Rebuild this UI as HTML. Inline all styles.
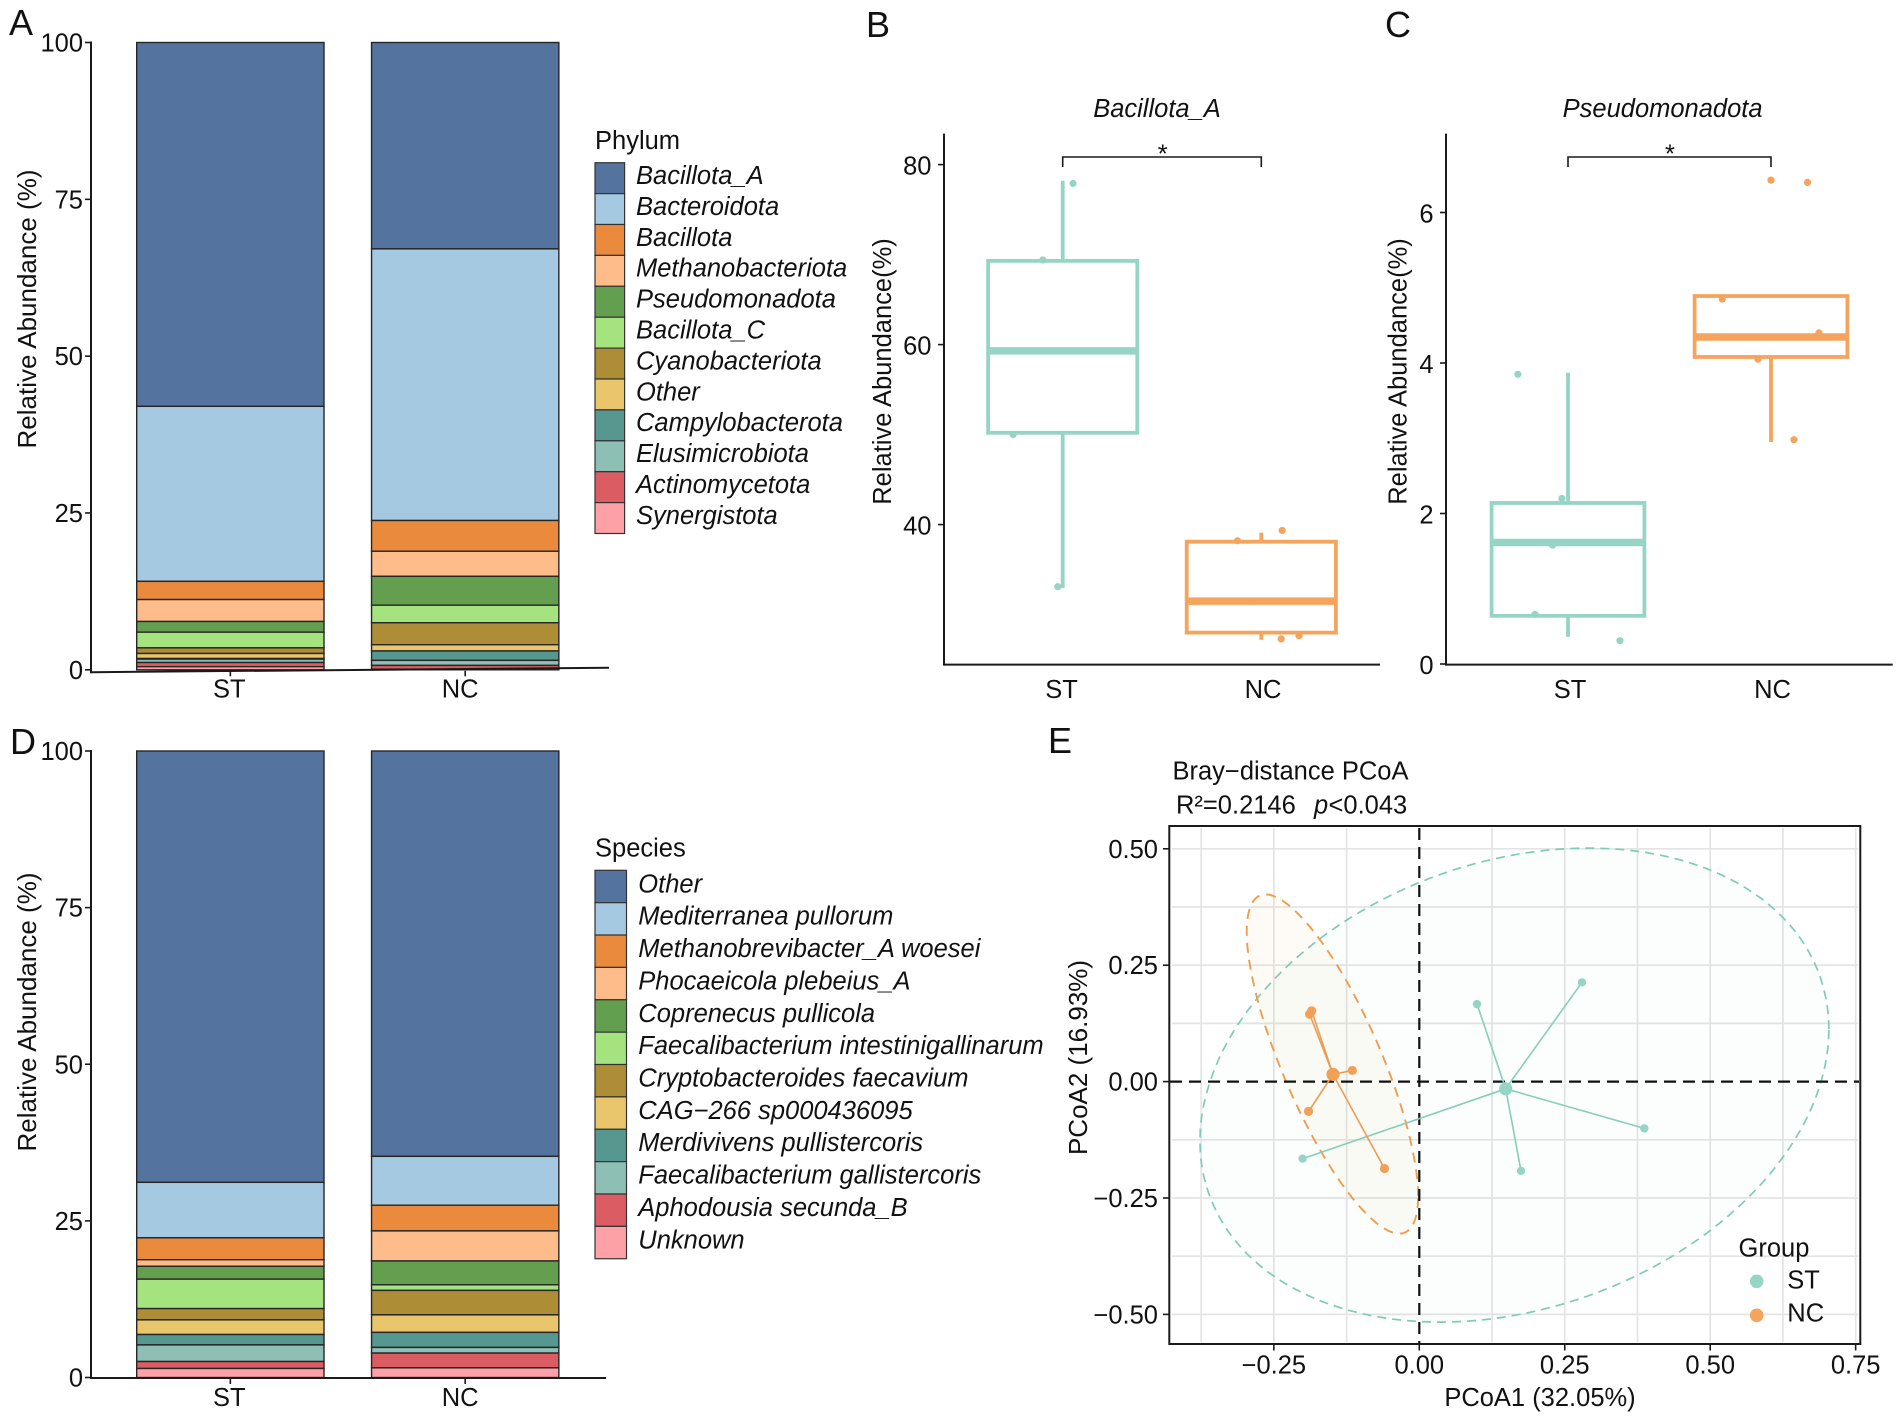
<!DOCTYPE html>
<html lang="en">
<head>
<meta charset="utf-8">
<title>Gut microbiota composition, abundance and PCoA figure</title>
<style>
  html, body { margin: 0; padding: 0; background: #ffffff; }
  svg { display: block; }
  text { font-family: "Liberation Sans", sans-serif; fill: #111111; font-size: 25.5px; }
  .letter { font-size: 36px; }
</style>
</head>
<body>
<svg id="figure" xmlns="http://www.w3.org/2000/svg" width="1902" height="1420" viewBox="0 0 1902 1420">
  <rect x="0" y="0" width="1902" height="1420" fill="#ffffff"/>
  <text class="letter" x="9" y="35">A</text>
  <text class="letter" x="866" y="37">B</text>
  <text class="letter" x="1385" y="37">C</text>
  <text class="letter" x="10" y="754">D</text>
  <text class="letter" x="1048" y="753">E</text>
  <g id="panel-a"></g>
  <g id="panel-b"></g>
  <g id="panel-c"></g>
  <g id="panel-d"></g>
  <g id="panel-e"></g>
</svg>
<script>
// ---------- Shared categories ----------
const groupLabels = ['ST', 'NC'];
const stackColors = ['#54749f', '#a6c9e2', '#ea8a3c', '#fdbc8a', '#649f4f', '#a4e37e', '#ad8e37', '#e9c56c', '#56978f', '#8dbfb5', '#dc5c63', '#fea1a6'];
const stackTicks = [0, 25, 50, 75, 100];

// ---------- Panel A data ----------
const phylumNames = ['Bacillota_A', 'Bacteroidota', 'Bacillota', 'Methanobacteriota', 'Pseudomonadota', 'Bacillota_C', 'Cyanobacteriota', 'Other', 'Campylobacterota', 'Elusimicrobiota', 'Actinomycetota', 'Synergistota'];
const phylumST = [58, 27.9, 2.9, 3.5, 1.7, 2.5, 0.9, 0.8, 0.1, 0.54, 0.66, 0.5];
const phylumNC = [32.9, 43.3, 4.9, 4.0, 4.6, 2.8, 3.5, 1.0, 1.5, 0.8, 0.6, 0.1];

// ---------- Panel D data ----------
const speciesNames = ['Other', 'Mediterranea pullorum', 'Methanobrevibacter_A woesei', 'Phocaeicola plebeius_A', 'Coprenecus pullicola', 'Faecalibacterium intestinigallinarum', 'Cryptobacteroides faecavium', 'CAG\u2212266 sp000436095', 'Merdivivens pullistercoris', 'Faecalibacterium gallistercoris', 'Aphodousia secunda_B', 'Unknown'];
const speciesST = [68.85, 8.85, 3.5, 1.05, 2.05, 4.7, 1.8, 2.34, 1.66, 2.65, 1.11, 1.44];
const speciesNC = [64.7, 7.8, 4.1, 4.8, 3.8, 0.9, 3.9, 2.8, 2.4, 0.9, 2.36, 1.54];

// ---------- Panel B data: box stats are [low, q1, median, q3, high] ----------
const bacillotaTicks = [40, 60, 80];
const bacillotaBoxST = [32.95, 50.2, 59.3, 69.3, 78.2];
const bacillotaBoxNC = [27.2, 28, 31.5, 38.1, 39.1];
const bacillotaPointsST = [77.9, 69.4, 59.3, 50, 33.1];
const bacillotaJitterST = [1.052, 0.9, 0.91, 0.75, 0.975];
const bacillotaPointsNC = [39.35, 38.2, 31.5, 27.65, 27.3];
const bacillotaJitterNC = [2.105, 1.88, 1.95, 2.19, 2.1];

// ---------- Panel C data ----------
const pseudoTicks = [0, 2, 4, 6];
const pseudoBoxST = [0.36, 0.64, 1.615, 2.14, 3.87];
const pseudoBoxNC = [2.95, 4.08, 4.345, 4.89, 4.89];
const pseudoPointsST = [3.85, 2.2, 1.58, 0.66, 0.31];
const pseudoJitterST = [0.753, 0.97, 0.924, 0.837, 1.256];
const pseudoPointsNC = [6.43, 6.4, 4.85, 4.4, 4.05, 2.98];
const pseudoJitterNC = [2, 2.18, 1.76, 2.236, 1.936, 2.113];

// ---------- Panel E data ----------
const pcoaXTicks = [-0.25, 0, 0.25, 0.5, 0.75];
const pcoaYTicks = [-0.5, -0.25, 0, 0.25, 0.5];
const pcoaXTickLabels = ['\u22120.25', '0.00', '0.25', '0.50', '0.75'];
const pcoaYTickLabels = ['\u22120.50', '\u22120.25', '0.00', '0.25', '0.50'];
const pcoaXGrid = [-0.375, -0.25, -0.125, 0.125, 0.25, 0.375, 0.5, 0.625, 0.75];
const pcoaYGrid = [-0.5, -0.375, -0.25, -0.125, 0.125, 0.25, 0.375, 0.5];
const stCentroid = [0.1485, -0.0155];
const stPcoa1 = [0.0992, 0.2796, 0.3868, 0.1748, -0.2006];
const stPcoa2 = [0.1664, 0.213, -0.1005, -0.1916, -0.1656];
const ncCentroid = [-0.1483, 0.0155];
const ncPcoa1 = [-0.1885, -0.185, -0.1151, -0.1904, -0.0598];
const ncPcoa2 = [0.145, 0.152, 0.024, -0.064, -0.1866];
// ellipse parameters: centre x, centre y, x radius, y radius, correlation
const stEllipse = [0.1635, -0.0075, 0.5405, 0.509, 0.2358];
const ncEllipse = [-0.1493, 0.0378, 0.1473, 0.3642, -0.78];

const TEAL = '#96d5c5';
const ORANGE = '#f4a45c';
const NS = 'http://www.w3.org/2000/svg';

function make(tag, attrs, parent, content) {
  const node = document.createElementNS(NS, tag);
  for (const key in attrs) node.setAttribute(key, attrs[key]);
  if (content !== undefined) node.textContent = content;
  parent.appendChild(node);
  return node;
}
function hline(parent, x1, y1, x2, y2, stroke, width, dash) {
  const a = { x1: x1, y1: y1, x2: x2, y2: y2, stroke: stroke, 'stroke-width': width };
  if (dash) a['stroke-dasharray'] = dash;
  return make('line', a, parent);
}

// ---------- Stacked bar panels ----------
function drawStack(panel, cfg) {
  const yScale = v => cfg.y0 - v * cfg.unit;
  const xScale = i => 230.35 + i * 234.85;
  const barWidth = 187.3;
  const seriesList = [cfg.st, cfg.nc];

  seriesList.forEach((series, g) => {
    let top = 100;
    series.forEach((value, s) => {
      const rect = make('rect', {
        x: xScale(g) - barWidth / 2, y: yScale(top), width: barWidth,
        height: Math.max(yScale(top - value) - yScale(top), 0),
        fill: stackColors[s], stroke: '#262626', 'stroke-width': 1.4
      }, panel);
      
      
      top -= value;
    });
  });

  const yAxis = hline(panel, 91, yScale(100) - 1, 91, cfg.axisLeftY + 1, '#1a1a1a', 2);
  
  
  const xAxis = hline(panel, 91, cfg.axisLeftY, cfg.axisEnd, cfg.axisRightY, '#1a1a1a', 2);
  
  

  stackTicks.forEach(t => {
    const tick = hline(panel, 85, yScale(t), 91, yScale(t), '#1a1a1a', 1.6);
    
    
    const label = make('text', { x: 83, y: yScale(t) + 9, 'text-anchor': 'end' }, panel, String(t));
    
    
  });

  groupLabels.forEach((name, g) => {
    const tick = hline(panel, xScale(g), cfg.y0 + 1, xScale(g), cfg.y0 + 6.5, '#1a1a1a', 1.6);
    
    
    const label = make('text', { x: xScale(g) - (g === 0 ? 1 : 5), y: cfg.labelY, 'text-anchor': 'middle' }, panel, name);
    
    
  });

  const title = make('text', { transform: 'translate(36 ' + cfg.titleY + ') rotate(-90)', 'text-anchor': 'middle', style: 'font-size:26px' }, panel, 'Relative Abundance (%)');
  
  

  const legendTitle = make('text', { x: 595, y: cfg.legendTitleY }, panel, cfg.legendTitle);
  
  

  cfg.names.forEach((name, s) => {
    const top = cfg.legendTop + s * cfg.legendRow;
    const swatch = make('rect', {
      x: 595, y: top, width: cfg.swatchWidth, height: cfg.legendRow,
      fill: stackColors[s], stroke: '#333333', 'stroke-width': 1.2
    }, panel);
    
    
    const entry = make('text', {
      x: cfg.legendTextX, y: top + cfg.legendRow / 2 + 5.8, 'font-style': 'italic'
    }, panel, name);
    
    
  });
}

drawStack(document.getElementById('panel-a'), {
  names: phylumNames, st: phylumST, nc: phylumNC,
  y0: 669.8, unit: 6.273, axisLeftY: 672.2, axisRightY: 667.8, axisEnd: 609,
  labelY: 697.5, titleY: 309,
  legendTitle: 'Phylum', legendTitleY: 149, legendTop: 162.7, legendRow: 30.9,
  swatchWidth: 29.6, legendTextX: 636
});
drawStack(document.getElementById('panel-d'), {
  names: speciesNames, st: speciesST, nc: speciesNC,
  y0: 1377.5, unit: 6.265, axisLeftY: 1378, axisRightY: 1378, axisEnd: 606,
  labelY: 1406, titleY: 1012,
  legendTitle: 'Species', legendTitleY: 856.5, legendTop: 870.3, legendRow: 32.37,
  swatchWidth: 31.5, legendTextX: 638.3
});

// ---------- Box plot panels ----------
function drawBox(panel, cfg) {
  const yScale = v => cfg.yRef - (v - cfg.vRef) * cfg.unit;
  const xScale = c => cfg.x1 + (c - 1) * (cfg.x2 - cfg.x1);
  const halfWidth = cfg.boxWidth / 2;

  [[cfg.pointsST, cfg.jitterST, TEAL, 'ST'], [cfg.pointsNC, cfg.jitterNC, ORANGE, 'NC']].forEach(set => {
    set[0].forEach((value, i) => {
      const dot = make('circle', { cx: xScale(set[1][i]), cy: yScale(value), r: 3.6, fill: set[2] }, panel);
      
      
    });
  });

  [[cfg.boxST, 1, TEAL, 'ST'], [cfg.boxNC, 2, ORANGE, 'NC']].forEach(set => {
    const stats = set[0];
    const cx = xScale(set[1]);
    const upper = hline(panel, cx, yScale(stats[4]), cx, yScale(stats[3]), set[2], 3.8);
    
    
    const lower = hline(panel, cx, yScale(stats[1]), cx, yScale(stats[0]), set[2], 3.8);
    
    
    const box = make('rect', {
      x: cx - halfWidth, y: yScale(stats[3]), width: cfg.boxWidth,
      height: yScale(stats[1]) - yScale(stats[3]),
      fill: 'none', stroke: set[2], 'stroke-width': 3.8
    }, panel);
    
    
    const median = hline(panel, cx - halfWidth, yScale(stats[2]), cx + halfWidth, yScale(stats[2]), set[2], 7.5);
    
    
  });

  const yAxis = hline(panel, cfg.axisX, 133.6, cfg.axisX, 665.6, '#1a1a1a', 2);
  
  
  const xAxis = hline(panel, cfg.axisX, 664.6, cfg.axisEnd, 664.6, '#1a1a1a', 2);
  
  

  cfg.ticks.forEach(t => {
    const tick = hline(panel, cfg.axisX - 6, yScale(t), cfg.axisX, yScale(t), '#1a1a1a', 1.6);
    
    
    const label = make('text', { x: cfg.axisX - 12.5, y: yScale(t) + 10, 'text-anchor': 'end' }, panel, String(t));
    
    
  });

  groupLabels.forEach((name, g) => {
    const label = make('text', { x: cfg.labelX[g], y: 698, 'text-anchor': 'middle' }, panel, name);
    
    
  });

  const bracket = make('path', {
    d: 'M' + xScale(1) + ' 167V157H' + xScale(2) + 'V167',
    fill: 'none', stroke: '#1a1a1a', 'stroke-width': 1.6
  }, panel);
  
  
  const star = make('text', { x: cfg.starX, y: 162.5, 'text-anchor': 'middle' }, panel, '*');
  
  

  const title = make('text', { x: cfg.titleX, y: 117, 'text-anchor': 'middle', 'font-style': 'italic' }, panel, cfg.title);
  
  
  const yTitle = make('text', { transform: 'translate(' + cfg.yTitleX + ' 371.5) rotate(-90)', 'text-anchor': 'middle' }, panel, 'Relative Abundance(%)');
  
  
}

drawBox(document.getElementById('panel-b'), {
  title: 'Bacillota_A', titleX: 1157, yTitleX: 891, starX: 1162.7,
  axisX: 944, axisEnd: 1380, x1: 1062.7, x2: 1261.3, boxWidth: 149.2,
  yRef: 344.6, vRef: 60, unit: 9, ticks: bacillotaTicks, labelX: [1061.5, 1263],
  boxST: bacillotaBoxST, boxNC: bacillotaBoxNC,
  pointsST: bacillotaPointsST, jitterST: bacillotaJitterST,
  pointsNC: bacillotaPointsNC, jitterNC: bacillotaJitterNC
});
drawBox(document.getElementById('panel-c'), {
  title: 'Pseudomonadota', titleX: 1662.6, yTitleX: 1406.7, starX: 1670,
  axisX: 1446, axisEnd: 1892.7, x1: 1568, x2: 1771, boxWidth: 152.8,
  yRef: 664, vRef: 0, unit: 75.25, ticks: pseudoTicks, labelX: [1570, 1772.5],
  boxST: pseudoBoxST, boxNC: pseudoBoxNC,
  pointsST: pseudoPointsST, jitterST: pseudoJitterST,
  pointsNC: pseudoPointsNC, jitterNC: pseudoJitterNC
});

// ---------- PCoA panel ----------
(function () {
  const panel = document.getElementById('panel-e');
  const xE = v => 1419.3 + v * 581.8;
  const yE = v => 1081.6 - v * 465.6;

  pcoaXGrid.forEach(v => {
    const grid = hline(panel, xE(v), 828, xE(v), 1342, '#e4e4e4', 1.7);
    
    
  });
  pcoaYGrid.forEach(v => {
    const grid = hline(panel, 1172, yE(v), 1858, yE(v), '#e4e4e4', 1.7);
    
    
  });

  function ellipsePath(p) {
    const parts = [];
    const steps = 160;
    for (let i = 0; i <= steps; i++) {
      const t = 2 * Math.PI * i / steps;
      const dx = p[2] * Math.cos(t);
      const dy = p[3] * (p[4] * Math.cos(t) + Math.sqrt(1 - p[4] * p[4]) * Math.sin(t));
      parts.push((i ? 'L' : 'M') + xE(p[0] + dx).toFixed(1) + ' ' + yE(p[1] + dy).toFixed(1));
    }
    return parts.join('') + 'Z';
  }
  const stShape = make('path', {
    d: ellipsePath(stEllipse), fill: '#8fd3c3', 'fill-opacity': 0.03,
    stroke: '#7fcab9', 'stroke-width': 1.7, 'stroke-dasharray': '9 6', 'stroke-opacity': 1
  }, panel);
  
  
  const ncShape = make('path', {
    d: ellipsePath(ncEllipse), fill: '#f0a860', 'fill-opacity': 0.05,
    stroke: '#ee9d50', 'stroke-width': 1.9, 'stroke-dasharray': '10 7'
  }, panel);
  
  

  const zeroH = hline(panel, 1170, yE(0), 1859, yE(0), '#111111', 2.2, '12 7');
  
  
  const zeroV = hline(panel, xE(0), 828, xE(0), 1343, '#111111', 2.2, '12 7');
  
  

  [[stPcoa1, stPcoa2, stCentroid, '#88cdbb', TEAL, 'ST', 4.2], [ncPcoa1, ncPcoa2, ncCentroid, '#ec9c52', '#f0a057', 'NC', 4.6]].forEach(set => {
    set[0].forEach((px, i) => {
      const spoke = hline(panel, xE(set[2][0]), yE(set[2][1]), xE(px), yE(set[1][i]), set[3], 1.6);
      
      
    });
    set[0].forEach((px, i) => {
      const dot = make('circle', { cx: xE(px), cy: yE(set[1][i]), r: set[6], fill: set[4] }, panel);
      
      
    });
    const centre = make('circle', { cx: xE(set[2][0]), cy: yE(set[2][1]), r: 6.6, fill: set[4] }, panel);
    
    
  });

  const frame = make('rect', { x: 1169.3, y: 826, width: 691, height: 518, fill: 'none', stroke: '#1a1a1a', 'stroke-width': 2 }, panel);
  
  

  pcoaXTicks.forEach((v, i) => {
    const tick = hline(panel, xE(v), 1344, xE(v), 1350.5, '#1a1a1a', 1.6);
    
    
    const label = make('text', { x: xE(v), y: 1373.5, 'text-anchor': 'middle' }, panel, pcoaXTickLabels[i]);
    
    
  });
  pcoaYTicks.forEach((v, i) => {
    const tick = hline(panel, 1163, yE(v), 1169.3, yE(v), '#1a1a1a', 1.6);
    
    
    const label = make('text', { x: 1158, y: yE(v) + 9, 'text-anchor': 'end' }, panel, pcoaYTickLabels[i]);
    
    
  });

  const xTitle = make('text', { x: 1540, y: 1406, 'text-anchor': 'middle' }, panel, 'PCoA1 (32.05%)');
  
  
  const yTitle = make('text', { transform: 'translate(1087 1057.5) rotate(-90)', 'text-anchor': 'middle', style: 'font-size:26px' }, panel, 'PCoA2 (16.93%)');
  
  

  const title = make('text', { x: 1172.5, y: 779.3 }, panel, 'Bray\u2212distance PCoA');
  
  
  const rSquared = make('text', { x: 1176, y: 813.3 }, panel, 'R\u00b2=0.2146');
  
  
  const pItalic = make('text', { x: 1314, y: 813.3, 'font-style': 'italic' }, panel, 'p');
  
  
  const pValue = make('text', { x: 1328.5, y: 813.3 }, panel, '<0.043');
  
  

  const legendTitle = make('text', { x: 1738.5, y: 1256.7 }, panel, 'Group');
  
  
  const legendDotST = make('circle', { cx: 1756.7, cy: 1281.3, r: 6.8, fill: TEAL }, panel);
  
  
  const legendTextST = make('text', { x: 1787.3, y: 1288.3 }, panel, groupLabels[0]);
  
  
  const legendDotNC = make('circle', { cx: 1756.7, cy: 1315.3, r: 6.8, fill: ORANGE }, panel);
  
  
  const legendTextNC = make('text', { x: 1787.3, y: 1321.7 }, panel, groupLabels[1]);
  
  
})();
</script>
</body>
</html>
